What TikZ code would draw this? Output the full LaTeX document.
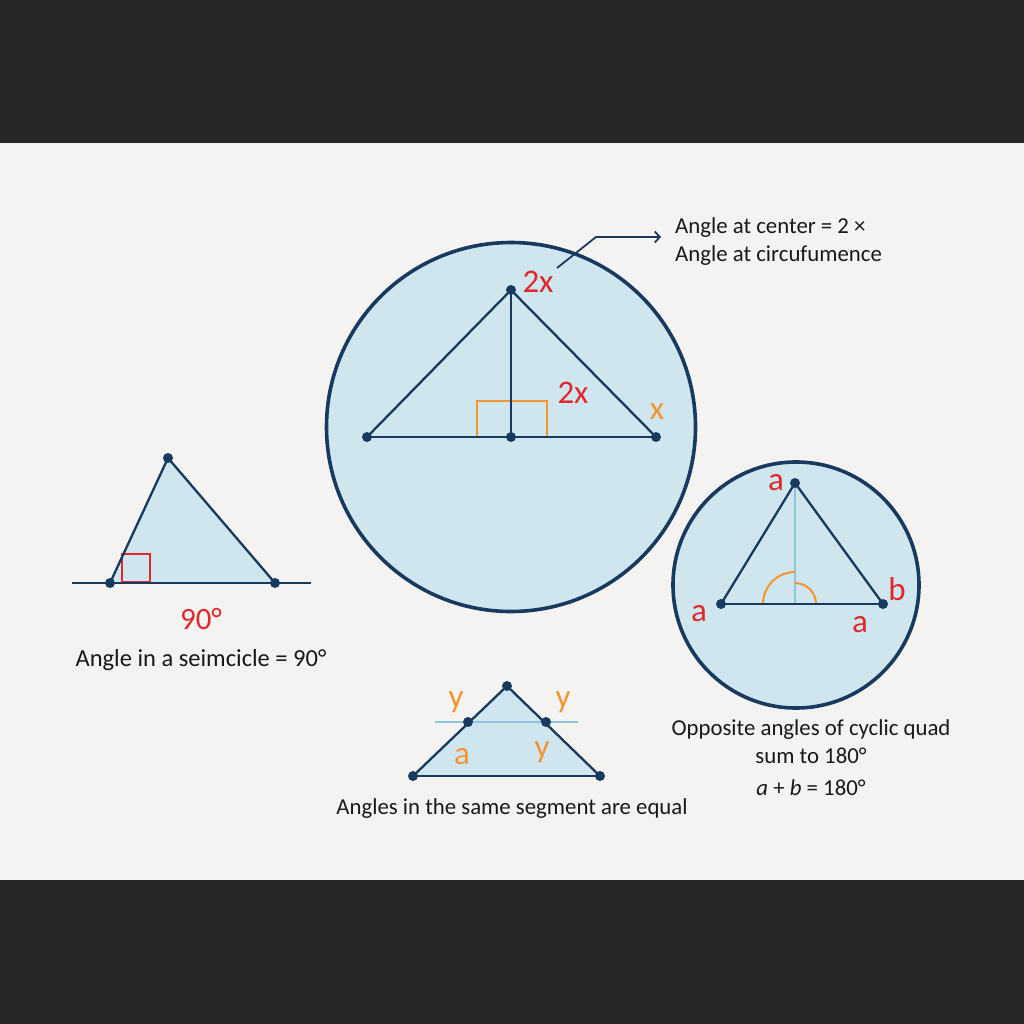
\documentclass[tikz,border=0pt]{standalone}
\usepackage{fontspec}
\setmainfont{Carlito}
\usetikzlibrary{arrows.meta}
\definecolor{navy}{HTML}{173A5E}
\definecolor{fillb}{HTML}{CFE6EF}
\definecolor{redl}{HTML}{E0282E}
\definecolor{orangel}{HTML}{F39530}
\definecolor{lightl}{HTML}{8EC5DC}
\definecolor{paper}{HTML}{F5F3F1}
\definecolor{band}{HTML}{262626}
\tikzset{
  dotpt/.style={circle,fill=navy,inner sep=0pt,minimum size=10pt},
  geo/.style={draw=navy,line width=2.3pt,line join=round},
  ring/.style={draw=navy,line width=3.6pt,fill=fillb},
  captext/.style={font=\fontsize{22.8}{28}\selectfont,text=black!90,align=center,inner sep=0pt},
  redlab/.style={font=\fontsize{33}{36}\selectfont,text=redl,inner sep=0pt},
  orlab/.style={font=\fontsize{33}{36}\selectfont,text=orangel,inner sep=0pt},
}
\begin{document}
\begin{tikzpicture}[x=1pt,y=-1pt]
\useasboundingbox (0,0) rectangle (1024,1024);
\fill[band] (0,0) rectangle (1024,1024);
\fill[paper] (0,143) rectangle (1024,880);

% ---- left: angle in a semicircle
\coordinate (LA) at (168,458);
\coordinate (LB) at (110,583);
\coordinate (LC) at (275,583);
\coordinate (LL) at (72,583);
\coordinate (LR) at (311,583);
\fill[fillb] (LA) -- (LB) -- (LC) -- cycle;
\draw[redl,line width=1.8pt] (122,554) rectangle (150,582);
\draw[geo] (LL) -- (LR);
\draw[geo] (LB) -- (LA) -- (LC);
\node[dotpt] (lA) at (LA) {};
\node[dotpt] (lB) at (LB) {};
\node[dotpt] (lC) at (LC) {};
\node[redlab,font=\fontsize{31}{34}\selectfont] (l90) at (201,619) {90°};
\node[captext,font=\fontsize{24.5}{28}\selectfont] (lcap) at (201,660) {Angle in a seimcicle = 90°};

% ---- big circle: angle at centre
\node[ring,circle,minimum size=369pt,inner sep=0pt] (bigc) at (511,427) {};
\coordinate (BA) at (511,290);
\coordinate (BL) at (367,437);
\coordinate (BR) at (656,437);
\coordinate (BM) at (511,437);
\draw[orangel,line width=1.8pt] (477,437) -- (477,401) -- (547,401) -- (547,437);
\draw[geo] (BL) -- (BR);
\draw[geo] (BL) -- (BA) -- (BR);
\draw[geo] (BA) -- (BM);
\node[dotpt] (bA) at (BA) {};
\node[dotpt] (bL) at (BL) {};
\node[dotpt] (bR) at (BR) {};
\node[dotpt] (bM) at (BM) {};
\node[redlab] (b2x) at (538,282) {2x};
\node[redlab] (b2xb) at (573,393) {2x};
\node[orlab] (bx) at (657,412) {x};
\coordinate (cs) at (557,268);
\coordinate (ck) at (596,237);
\coordinate (ce) at (661,237);
\node[captext,align=left,anchor=west] (ctext) at (675,242) {Angle at center = 2 ×\\Angle at circufumence};
\draw[navy,line width=1.8pt,-{Straight Barb[length=5pt,width=11pt]}] (cs) -- (ck) -- (ce);

% ---- right circle: cyclic quad
\node[ring,circle,minimum size=246pt,inner sep=0pt] (smc) at (796,585) {};
\coordinate (RA) at (795,483);
\coordinate (RL) at (721,604);
\coordinate (RR) at (883,604);
\coordinate (RM) at (795,604);
\draw[lightl,line width=1.8pt] (RA) -- (RM);
\draw[orangel,line width=2pt] (763,604) arc[start angle=180,end angle=270,radius=32];
\draw[orangel,line width=2pt] (795,583) arc[start angle=270,end angle=360,radius=21];
\draw[geo] (RL) -- (RR);
\draw[geo] (RL) -- (RA) -- (RR);
\node[dotpt] (rA) at (RA) {};
\node[dotpt] (rL) at (RL) {};
\node[dotpt] (rR) at (RR) {};
\node[redlab] (ra1) at (776,483) {a};
\node[redlab] (ra2) at (699,614) {a};
\node[redlab] (rb) at (897,589) {b};
\node[redlab] (ra3) at (860,625) {a};
\node[captext] (rcap) at (811,742) {Opposite angles of cyclic quad\\sum to 180°};
\node[captext] (rform) at (811,788) {\itshape a\/ \upshape+ \itshape b\/ \upshape= 180°};

% ---- bottom: same segment
\coordinate (TA) at (507,686);
\coordinate (TL) at (413,776);
\coordinate (TR) at (600,776);
\coordinate (TP) at (468,722);
\coordinate (TQ) at (546,722);
\fill[fillb] (TA) -- (TL) -- (TR) -- cycle;
\draw[lightl,line width=2pt] (435,722) -- (578,722);
\draw[geo] (TL) -- (TR);
\draw[geo] (TL) -- (TA) -- (TR);
\node[dotpt] (tA) at (TA) {};
\node[dotpt] (tL) at (TL) {};
\node[dotpt] (tR) at (TR) {};
\node[dotpt] (tP) at (TP) {};
\node[dotpt] (tQ) at (TQ) {};
\node[orlab] (ty1) at (456,702) {y};
\node[orlab] (ty2) at (563,702) {y};
\node[orlab] (ta) at (462,757) {a};
\node[orlab] (ty3) at (542,752) {y};
\node[captext] (tcap) at (512,809) {Angles in the same segment are equal};
\end{tikzpicture}
\end{document}
